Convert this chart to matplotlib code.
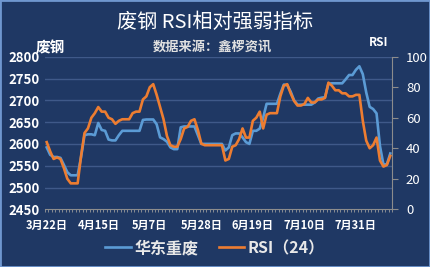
import matplotlib
matplotlib.use("Agg")
import matplotlib.pyplot as plt
from matplotlib.patches import Rectangle
from matplotlib.lines import Line2D

plt.rcParams['font.family'] = ['Noto Sans CJK SC', 'DejaVu Sans']

# ---- data (101 trading days) ----
tick_labels = ["3月22日", "4月15日", "5月7日", "5月28日", "6月19日", "7月10日", "7月31日"]
tick_positions = [0, 15, 30, 45, 60, 75, 90]

scrap_price = [
    2592, 2575, 2570, 2570, 2568, 2552, 2535, 2528, 2528, 2528,
    2570, 2620, 2622, 2622, 2620, 2648, 2632, 2630, 2610, 2608,
    2608, 2620, 2630, 2630, 2630, 2630, 2630, 2630, 2655, 2656,
    2656, 2656, 2645, 2615, 2611, 2605, 2592, 2588, 2588, 2638,
    2640, 2640, 2640, 2640, 2620, 2600, 2600, 2600, 2600, 2600,
    2600, 2600, 2585, 2592, 2620, 2624, 2624, 2615, 2604, 2600,
    2630, 2630, 2635, 2660, 2692, 2692, 2692, 2692, 2715, 2736,
    2735, 2720, 2700, 2690, 2690, 2690, 2690, 2690, 2695, 2704,
    2706, 2707, 2738, 2739, 2739, 2739, 2739, 2748, 2758, 2758,
    2770, 2778, 2760, 2718, 2685, 2680, 2670, 2595, 2553, 2553,
    2578,
]
rsi_24 = [
    44, 38, 33, 34, 33, 27, 20, 17, 17, 17,
    35, 50, 53, 60, 63, 67, 64, 64, 60, 59,
    56, 58, 59, 59, 59, 63, 64, 64, 72, 74,
    80, 82, 75, 67, 59, 48, 42, 41, 41, 46,
    53, 54, 58, 59, 52, 43, 42, 42, 42, 42,
    42, 42, 32, 33, 41, 42, 46, 53, 47, 47,
    58, 60, 64, 53, 62, 63, 63, 63, 74, 81,
    82, 76, 71, 68, 68, 69, 73, 70, 70, 72,
    72, 73, 83, 81, 78, 78, 76, 76, 74, 74,
    75, 75, 58, 45, 40, 42, 47, 32, 28, 29,
    35,
]
series_names = ["华东重废", "RSI（24）"]

BG = "#1f3864"
BLUE = "#5b9bd5"
ORANGE = "#ed7d31"
GRID = "#3f5989"

fig = plt.figure(figsize=(4.3, 2.67), dpi=100, facecolor=BG)
fig.patches.append(Rectangle((0, 0), 1, 1, transform=fig.transFigure,
                             fill=False, edgecolor="#6f97cf", linewidth=2.0))

ax = fig.add_axes([45 / 430, 57.7 / 267, 347 / 430, 152.6 / 267])
ax.set_facecolor(BG)
ax2 = ax.twinx()

x = list(range(len(scrap_price)))
ax.plot(x, scrap_price, color=BLUE, lw=1.9, solid_joinstyle="round", zorder=3)
ax2.plot(x, rsi_24, color=ORANGE, lw=1.9, solid_joinstyle="round", zorder=3)

ax.set_xlim(-0.5, len(x) - 0.5)
ax.set_ylim(2450, 2800)
ax2.set_ylim(0, 100)

ax.set_yticks(range(2450, 2801, 50))
for v in range(2500, 2801, 50):
    ax.axhline(v, color=GRID, lw=1.0, zorder=1)

ax2.set_yticks(range(0, 101, 20))

for s in ["top", "left"]:
    ax.spines[s].set_visible(False)
    ax2.spines[s].set_visible(False)
ax.spines["right"].set_visible(False)
ax2.spines["bottom"].set_visible(False)
ax2.spines["right"].set_color("#8c8c8c")
ax.spines["bottom"].set_color("#8c8c8c")

ax.tick_params(axis="y", length=0, pad=4, labelcolor="white", labelsize=9.5)
for t in ax.get_yticklabels():
    t.set_fontweight("bold")
ax2.tick_params(axis="y", length=4, width=0.8, color="#8c8c8c", direction="out",
                pad=6, labelcolor="white", labelsize=9.5)

ax.set_xticks(tick_positions)
ax.set_xticklabels(tick_labels, fontsize=8, fontweight="bold", color="white")
ax.set_xticks([i - 0.5 for i in range(len(x) + 1)], minor=True)
ax.tick_params(axis="x", which="major", length=0, pad=7)
ax.tick_params(axis="x", which="minor", length=2.5, width=0.6, color="#9a9a9a",
               direction="out")

# titles / annotations
fig.text(0.5, 1 - 22 / 267, "废钢 RSI相对强弱指标", ha="center", va="center",
         color="white", fontsize=14.5)
fig.text(212 / 430, 1 - 47 / 267, "数据来源：鑫椤资讯", ha="center", va="center",
         color="#e0e0e0", fontsize=9.5, fontweight="bold")
fig.text(36 / 430, 1 - 47 / 267, "废钢", ha="left", va="center",
         color="white", fontsize=10.5, fontweight="bold")
fig.text(379 / 430, 1 - 43 / 267, "RSI", ha="center", va="center",
         color="white", fontsize=8.5, fontweight="bold")

handles = [Line2D([], [], color=BLUE, lw=1.9), Line2D([], [], color=ORANGE, lw=1.9)]
leg = fig.legend(handles, series_names, loc="center", bbox_to_anchor=(0.5, 1 - 248 / 267),
                 ncol=2, frameon=False, fontsize=11.5, handlelength=1.6,
                 handletextpad=0.2, columnspacing=1.3)
for t in leg.get_texts():
    t.set_color("#e8e8e8")
    t.set_fontweight("bold")

fig.savefig("out.png", dpi=100, facecolor=BG)
